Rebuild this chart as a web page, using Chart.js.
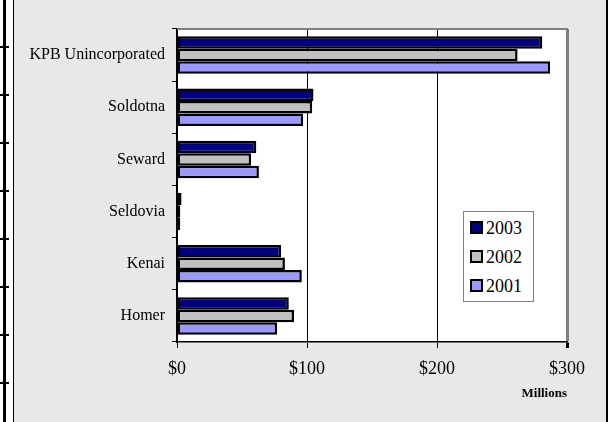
<!DOCTYPE html>
<html>
<head>
<meta charset="utf-8">
<script src="https://cdn.jsdelivr.net/npm/chart.js@4"></script>
<style>
  body { margin: 0; background: #fff; }
  #wrap { position: relative; width: 615px; height: 422px; overflow: hidden; }
  #frame { position: absolute; left: 13px; top: 0; width: 592px; height: 422px;
           background: #e8e8e8; border-left: 1px solid #000; border-right: 2px solid #000; }
  #spine { position: absolute; left: 3px; top: 0; width: 3px; height: 422px; background: #000; }
  #spineTicks { position: absolute; left: 0; top: 0; width: 9px; height: 422px;
    background: repeating-linear-gradient(to bottom, transparent 0, transparent 46px, #000 46px, #000 48px, transparent 48px, transparent 47.2px); }
  canvas { position: absolute; left: 0; top: 0; }
  #legend { position: absolute; left: 463px; top: 211px; width: 71px; height: 91px;
            background: #fff; border: 1px solid #808080; box-sizing: border-box;
            font-family: "Liberation Serif", "Times New Roman", serif; font-size: 18px; }
  .item { position: absolute; left: 6px; height: 20px; line-height: 20px; }
  .sw { display: inline-block; width: 9px; height: 9px; border: 2px solid #000;
        vertical-align: 0px; margin-right: 3px; }
</style>
</head>
<body>
<div id="wrap">
  <div id="frame"></div>
  <div id="spineTicks"></div>
  <div id="spine"></div>
  <canvas id="chart" width="615" height="422"></canvas>
  <div id="legend"></div>
</div>
<script>
// taxable sales by community, millions
const categories = ['KPB Unincorporated', 'Soldotna', 'Seward', 'Seldovia', 'Kenai', 'Homer'];
const years = ['2003', '2002', '2001'];
const sales2003 = [281, 105, 61, 3.5, 80, 86];
const sales2002 = [262, 104, 57, 2.5, 83, 90];
const sales2001 = [287, 97, 63, 2.5, 96, 77];
const xTicks = [0, 100, 200, 300];
const colors = ['#000080', '#c0c0c0', '#9999ff'];

const serif = '"Liberation Serif", "Times New Roman", serif';

// white plot area with gray border along the top
const plotBorder = {
    id: 'plotBorder',
    beforeDraw(chart) {
        const a = chart.chartArea;
        const ctx = chart.ctx;
        ctx.save();
        ctx.fillStyle = '#fff';
        ctx.fillRect(a.left, a.top, a.right - a.left, a.bottom - a.top);
        ctx.restore();
    },
    afterDraw(chart) {
        const a = chart.chartArea;
        const ctx = chart.ctx;
        ctx.save();
        ctx.strokeStyle = '#808080';
        ctx.lineWidth = 2;
        ctx.beginPath();
        ctx.moveTo(a.left, a.top);
        ctx.lineTo(a.right + 1, a.top);
        ctx.stroke();
        ctx.restore();
    }
};

const seriesValues = [sales2003, sales2002, sales2001];

new Chart(document.getElementById('chart'), {
    type: 'bar',
    data: {
        labels: categories,
        datasets: years.map((y, i) => ({
            label: y,
            data: seriesValues[i],
            backgroundColor: colors[i],
            borderColor: '#000',
            borderWidth: 2.5,
            borderSkipped: false,
            categoryPercentage: 0.72,
            barPercentage: 1.0
        }))
    },
    options: {
        indexAxis: 'y',
        responsive: false,
        animation: false,
        layout: { padding: { left: 14, right: 48, top: 29, bottom: 0 } },
        plugins: { legend: { display: false }, tooltip: { enabled: false } },
        scales: {
            x: {
                min: 0,
                max: 300,
                afterBuildTicks: s => { s.ticks = xTicks.map(v => ({ value: v })); },
                afterFit: s => { s.height = 80; },
                ticks: {
                    callback: v => '$' + v,
                    color: '#000',
                    font: { family: serif, size: 18 },
                    padding: 10
                },
                grid: {
                    color: c => c.tick && c.tick.value === 300 ? '#808080' : '#000',
                    lineWidth: c => c.tick && c.tick.value === 300 ? 3 : 1,
                    tickLength: 6,
                    tickColor: '#000'
                },
                border: { color: '#000', width: 1.5 },
                title: {
                    display: true,
                    text: 'Millions',
                    align: 'end',
                    color: '#000',
                    font: { family: serif, size: 13, weight: 'bold' },
                    padding: { top: 0, bottom: 21 }
                }
            },
            y: {
                afterFit: s => { s.width = 163; },
                ticks: {
                    color: '#000',
                    font: { family: serif, size: 16 },
                    padding: 7
                },
                grid: {
                    drawOnChartArea: false,
                    tickLength: 5,
                    color: '#000'
                },
                border: { color: '#000', width: 2 }
            }
        }
    },
    plugins: [plotBorder]
});

// boxed legend inside the plot
const legend = document.getElementById('legend');
years.forEach((y, i) => {
    const item = document.createElement('div');
    item.className = 'item';
    item.style.top = (6 + i * 29) + 'px';
    item.innerHTML = `<span class="sw" style="background:${colors[i]}"></span>${y}`;
    legend.appendChild(item);
});
</script>
</body>
</html>
